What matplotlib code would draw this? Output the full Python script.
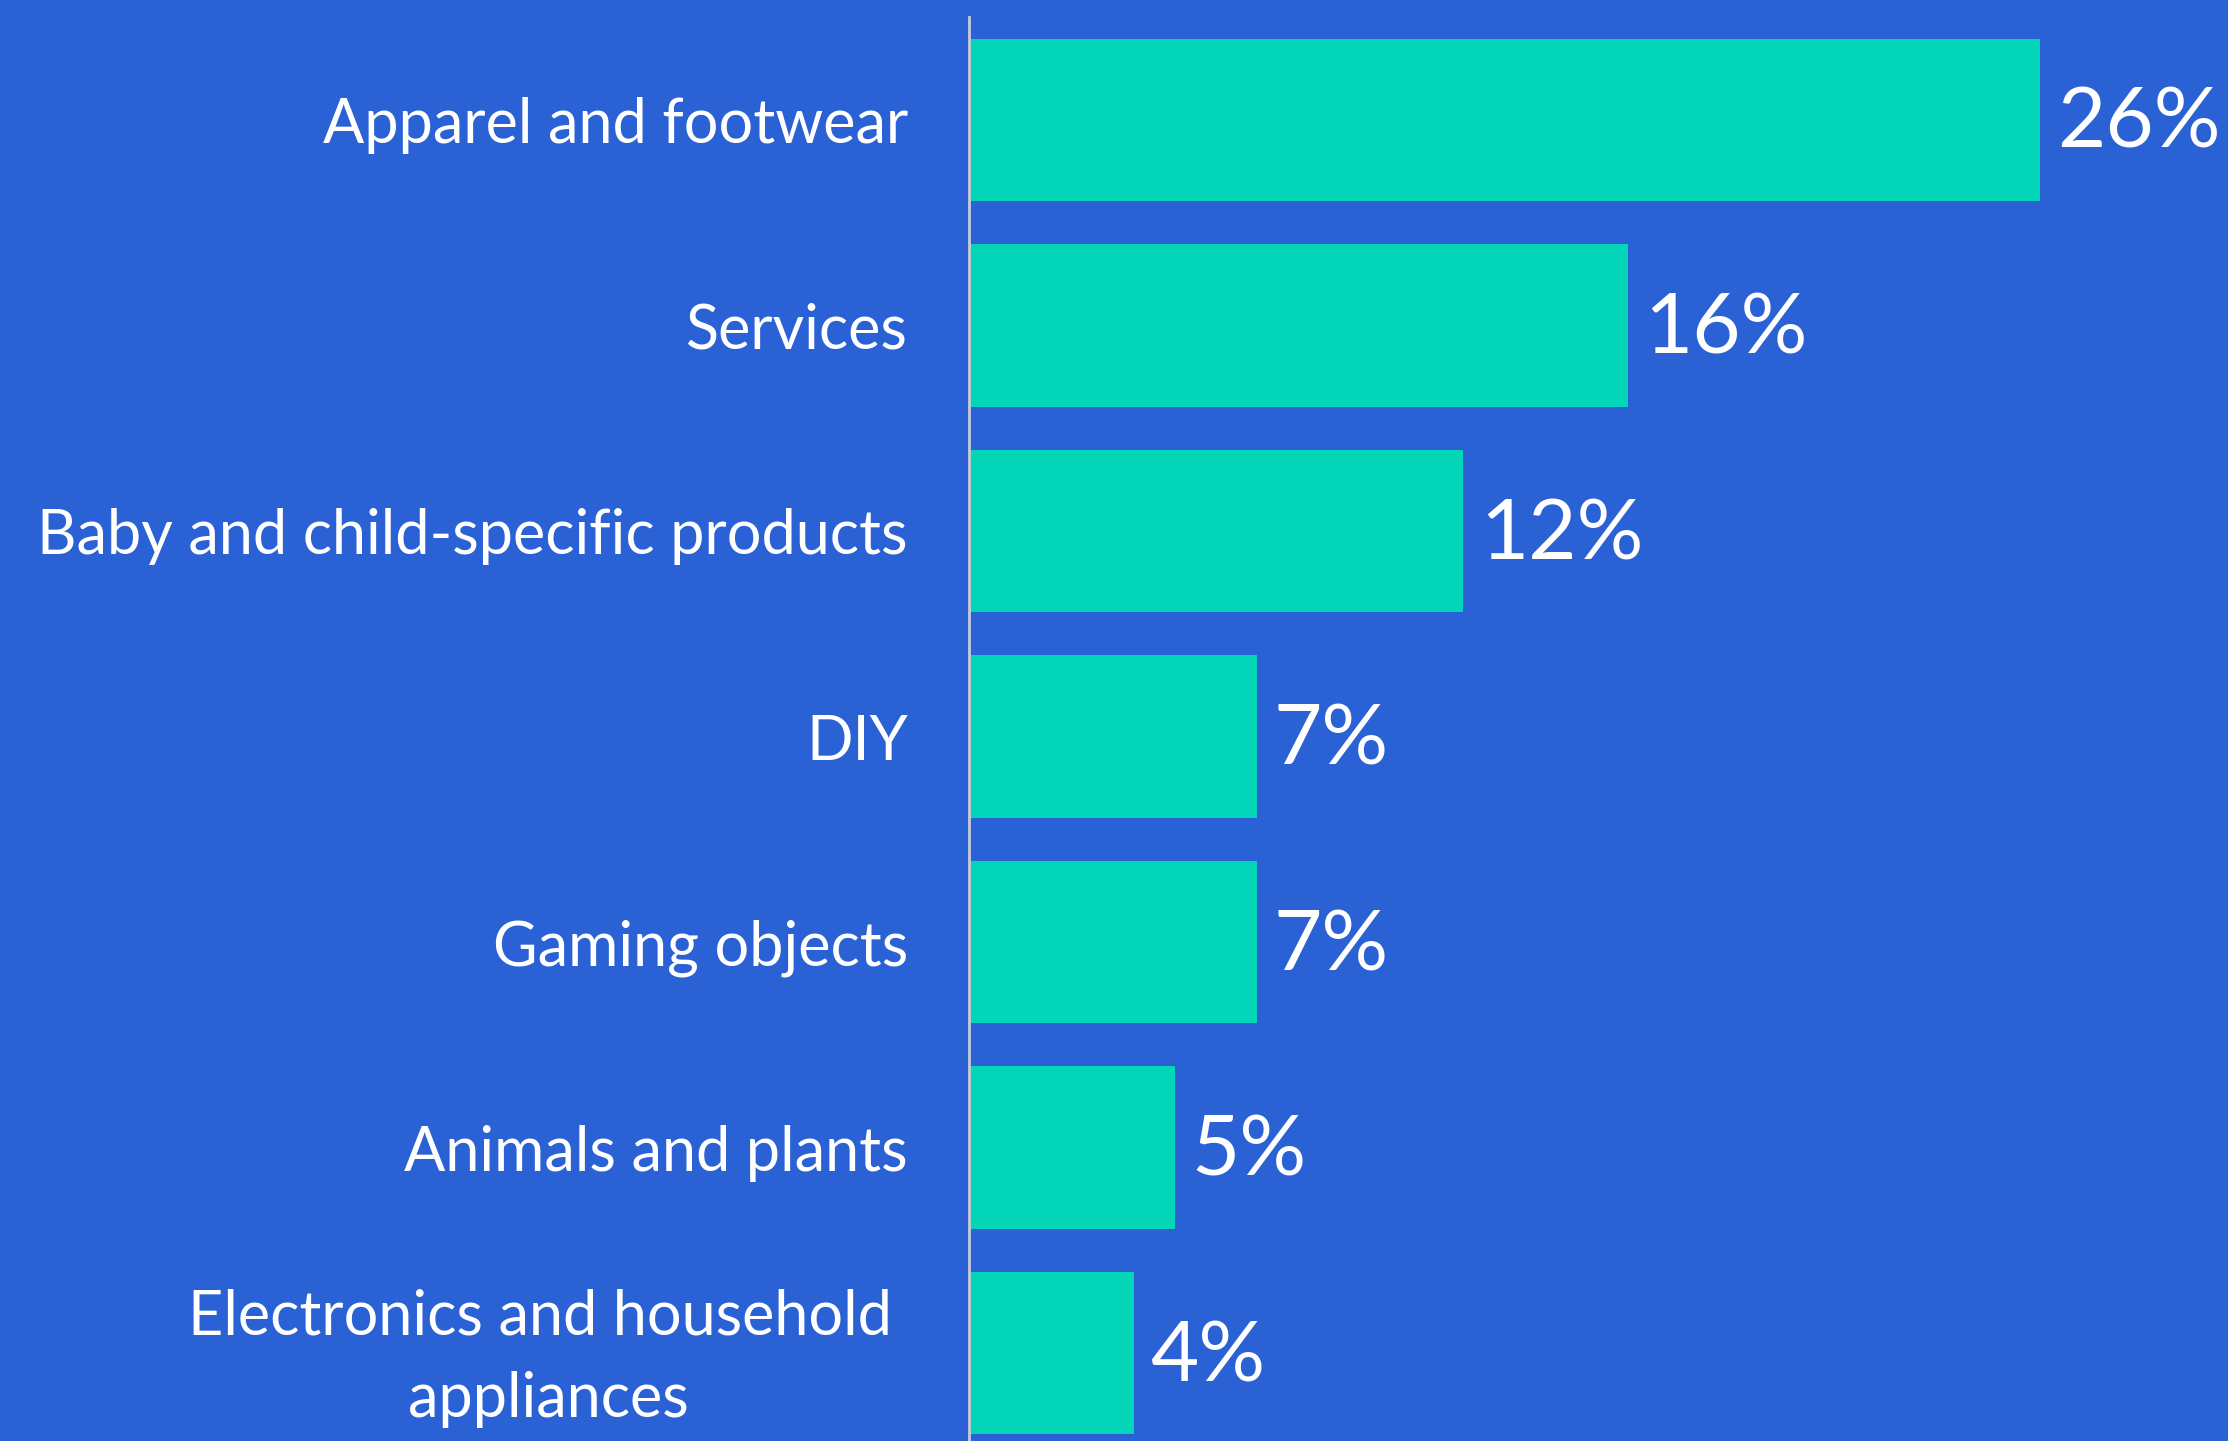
import matplotlib
matplotlib.use("Agg")
import matplotlib.pyplot as plt
from matplotlib.transforms import ScaledTranslation

# category shares, top to bottom
categories = [
    "Apparel and footwear",
    "Services",
    "Baby and child-specific products",
    "DIY",
    "Gaming objects",
    "Animals and plants",
    "Electronics and household \nappliances",
]
shares = [26, 16, 12, 7, 7, 5, 4]

bg = "#2A62D6"
bar_color = "#03D5B8"

plt.rcParams["font.family"] = ["Lato", "DejaVu Sans"]

W, H = 2228, 1441
fig = plt.figure(figsize=(W / 100, H / 100), dpi=100, facecolor=bg)

# axes spans from the zero line to the right edge, slightly past the bottom
left = 969 / W
top = 1 - 17 / H
bottom = 1 - 1456 / H
ax = fig.add_axes([left, bottom, 1 - left, top - bottom])
ax.set_facecolor(bg)

pos = list(range(len(categories)))
ax.barh(pos, shares, height=0.79, color=bar_color)
ax.set_ylim(len(categories) - 0.5, -0.5)
ax.set_xlim(0, 1259 / 41.2)

for y, v in zip(pos, shares):
    ax.text(v + 0.4, y + 0.025, f"{v}%", va="center", ha="left",
            color="white", fontsize=60)

ax.set_yticks(pos)
labels = ax.set_yticklabels(categories, fontsize=44, color="white",
                            multialignment="center", linespacing=1.55)
ax.tick_params(axis="y", length=0, pad=44)
ax.set_xticks([])

# two-line label sits a little higher
lab = labels[-1]
lab.set_transform(lab.get_transform() + ScaledTranslation(0, 0.13, fig.dpi_scale_trans))

for side in ["top", "right", "bottom"]:
    ax.spines[side].set_visible(False)
ax.spines["left"].set_color("#C8CCD8")
ax.spines["left"].set_linewidth(2)

fig.savefig("out.png", dpi=100, facecolor=bg)
